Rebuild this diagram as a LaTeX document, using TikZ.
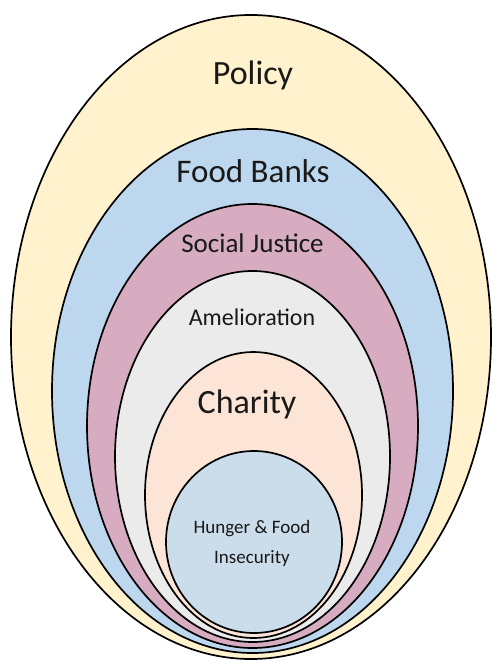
\documentclass[tikz,border=0pt]{standalone}
\usepackage{fontspec}
\setmainfont{Carlito}
\usetikzlibrary{shapes.geometric}

\definecolor{policyyellow}{RGB}{255,242,204}
\definecolor{bankblue}{RGB}{189,215,238}
\definecolor{justicepink}{RGB}{215,172,193}
\definecolor{ameliogray}{RGB}{235,235,235}
\definecolor{charitypeach}{RGB}{252,228,214}
\definecolor{hungerblue}{RGB}{203,220,234}

\begin{document}
\begin{tikzpicture}[x=1pt,y=-1pt]
\tikzstyle{ring}=[ellipse,draw=black,line width=1.7pt,inner sep=0pt,fill=#1]
\tikzstyle{tag}=[anchor=base,inner sep=0pt,text=black!90]
\useasboundingbox (0,0) rectangle (492,660);

% nested rings, outside in
\node[ring=policyyellow,minimum width=480pt,minimum height=644pt](P) at (251,337) {};
\node[ring=bankblue,minimum width=401pt,minimum height=524pt](F) at (252.5,391) {};
\node[ring=justicepink,minimum width=331pt,minimum height=444pt](S) at (252.5,426) {};
\node[ring=ameliogray,minimum width=275pt,minimum height=371pt](A) at (252.5,456.5) {};
\node[ring=charitypeach,minimum width=217pt,minimum height=286pt](C) at (253.5,495) {};
\node[ring=hungerblue,minimum width=176pt,minimum height=182pt](H) at (254,542) {};

% labels
\node[tag,font=\fontsize{34}{34}\selectfont](Pl) at (253,85) {Policy};
\node[tag,font=\fontsize{33}{33}\selectfont](Fl) at (253,183) {Food Banks};
\node[tag,font=\fontsize{27}{27}\selectfont](Sl) at (252.5,252) {Social Justice};
\node[tag,font=\fontsize{24}{24}\selectfont](Al) at (252,325) {Amelioration};
\node[tag,font=\fontsize{34}{34}\selectfont](Cl) at (247,413) {Charity};
\node[tag,font=\fontsize{19}{19}\selectfont](Hl) at (252,533) {Hunger \& Food};
\node[tag,font=\fontsize{19}{19}\selectfont](Il) at (252,563) {Insecurity};
\end{tikzpicture}
\end{document}
